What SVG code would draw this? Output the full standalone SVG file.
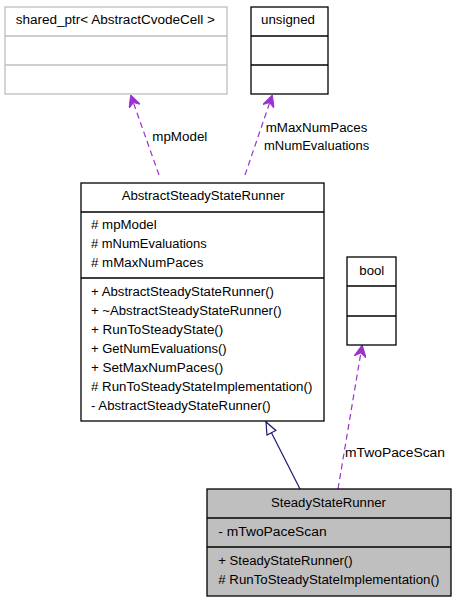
<svg xmlns="http://www.w3.org/2000/svg" width="456" height="603" viewBox="0 0 456 603">
<style>
text{font-family:"Liberation Sans",Arial,sans-serif;font-size:12px;fill:#000}
.box{fill:#fff;stroke:#000;stroke-width:1.3}
.gbox{fill:#fff;stroke:#bfbfbf;stroke-width:1.3}
.sel{fill:#bfbfbf;stroke:#000;stroke-width:1.3}
.dash{fill:none;stroke:#9a32cd;stroke-width:1.2;stroke-dasharray:6,4}
.inh{fill:none;stroke:#191970;stroke-width:1.2}
</style>
<defs>
<marker id="vee" viewBox="0 0 12 12" refX="11" refY="6" markerWidth="12" markerHeight="12" markerUnits="userSpaceOnUse" orient="auto">
<path d="M0,0 L12,6 L0,12 L4,6 Z" fill="#9a32cd" stroke="#9a32cd" stroke-width="1"/>
</marker>
<marker id="tri" viewBox="0 0 14 12" refX="13" refY="6" markerWidth="14" markerHeight="12" markerUnits="userSpaceOnUse" orient="auto">
<path d="M1,1 L13,6 L1,11 Z" fill="#fff" stroke="#191970" stroke-width="1.2"/>
</marker>
</defs>
<g id="connectors">
<path class="dash" d="M159,175 L131,96" marker-end="url(#vee)"/>
<text x="152.3" y="141" textLength="55" lengthAdjust="spacingAndGlyphs">mpModel</text>
<path class="dash" d="M245,175 L272,96" marker-end="url(#vee)"/>
<text x="265.7" y="132" textLength="101.7" lengthAdjust="spacingAndGlyphs">mMaxNumPaces</text>
<text x="264" y="150" textLength="105.3" lengthAdjust="spacingAndGlyphs">mNumEvaluations</text>
<path class="dash" d="M338,489 L362,346" marker-end="url(#vee)"/>
<text x="345" y="457" textLength="100" lengthAdjust="spacingAndGlyphs">mTwoPaceScan</text>
<path class="inh" d="M300,489 L266,422" marker-end="url(#tri)"/>
</g>
<g id="shared_ptr">
<rect class="gbox" x="5" y="7" width="222" height="87"/>
<line class="gbox" x1="5" y1="36" x2="227" y2="36"/>
<line class="gbox" x1="5" y1="65" x2="227" y2="65"/>
<text x="15.7" y="24" textLength="199.3" lengthAdjust="spacingAndGlyphs">shared_ptr&lt; AbstractCvodeCell &gt;</text>
</g>
<g id="unsigned">
<rect class="box" x="251" y="7" width="77" height="87"/>
<line class="box" x1="251" y1="36" x2="328" y2="36"/>
<line class="box" x1="251" y1="65" x2="328" y2="65"/>
<text x="261" y="24" textLength="54" lengthAdjust="spacingAndGlyphs">unsigned</text>
</g>
<g id="AbstractSteadyStateRunner">
<rect class="box" x="81" y="183" width="243" height="238"/>
<line class="box" x1="81" y1="212" x2="324" y2="212"/>
<line class="box" x1="81" y1="278" x2="324" y2="278"/>
<text x="121.7" y="200" textLength="163" lengthAdjust="spacingAndGlyphs">AbstractSteadyStateRunner</text>
<text x="91" y="229" textLength="65.7" lengthAdjust="spacingAndGlyphs"># mpModel</text>
<text x="91" y="248" textLength="115.7" lengthAdjust="spacingAndGlyphs"># mNumEvaluations</text>
<text x="91" y="267" textLength="112.3" lengthAdjust="spacingAndGlyphs"># mMaxNumPaces</text>
<text x="91" y="296" textLength="183" lengthAdjust="spacingAndGlyphs">+ AbstractSteadyStateRunner()</text>
<text x="91" y="315" textLength="190.7" lengthAdjust="spacingAndGlyphs">+ ~AbstractSteadyStateRunner()</text>
<text x="91" y="334" textLength="132.3" lengthAdjust="spacingAndGlyphs">+ RunToSteadyState()</text>
<text x="91" y="353" textLength="135.7" lengthAdjust="spacingAndGlyphs">+ GetNumEvaluations()</text>
<text x="91" y="372" textLength="132.3" lengthAdjust="spacingAndGlyphs">+ SetMaxNumPaces()</text>
<text x="91" y="391" textLength="221.3" lengthAdjust="spacingAndGlyphs"># RunToSteadyStateImplementation()</text>
<text x="91" y="410" textLength="179.7" lengthAdjust="spacingAndGlyphs">- AbstractSteadyStateRunner()</text>
</g>
<g id="bool">
<rect class="box" x="347" y="257" width="49" height="88"/>
<line class="box" x1="347" y1="286" x2="396" y2="286"/>
<line class="box" x1="347" y1="316" x2="396" y2="316"/>
<text x="359.3" y="275" textLength="25" lengthAdjust="spacingAndGlyphs">bool</text>
</g>
<g id="SteadyStateRunner">
<rect class="sel" x="207" y="489" width="244" height="107"/>
<line class="sel" x1="207" y1="518" x2="451" y2="518"/>
<line class="sel" x1="207" y1="547" x2="451" y2="547"/>
<text x="271" y="507" textLength="115" lengthAdjust="spacingAndGlyphs">SteadyStateRunner</text>
<text x="218.3" y="536" textLength="108.3" lengthAdjust="spacingAndGlyphs">- mTwoPaceScan</text>
<text x="218.3" y="565" textLength="134.3" lengthAdjust="spacingAndGlyphs">+ SteadyStateRunner()</text>
<text x="218.3" y="584" textLength="221" lengthAdjust="spacingAndGlyphs"># RunToSteadyStateImplementation()</text>
</g>
</svg>
